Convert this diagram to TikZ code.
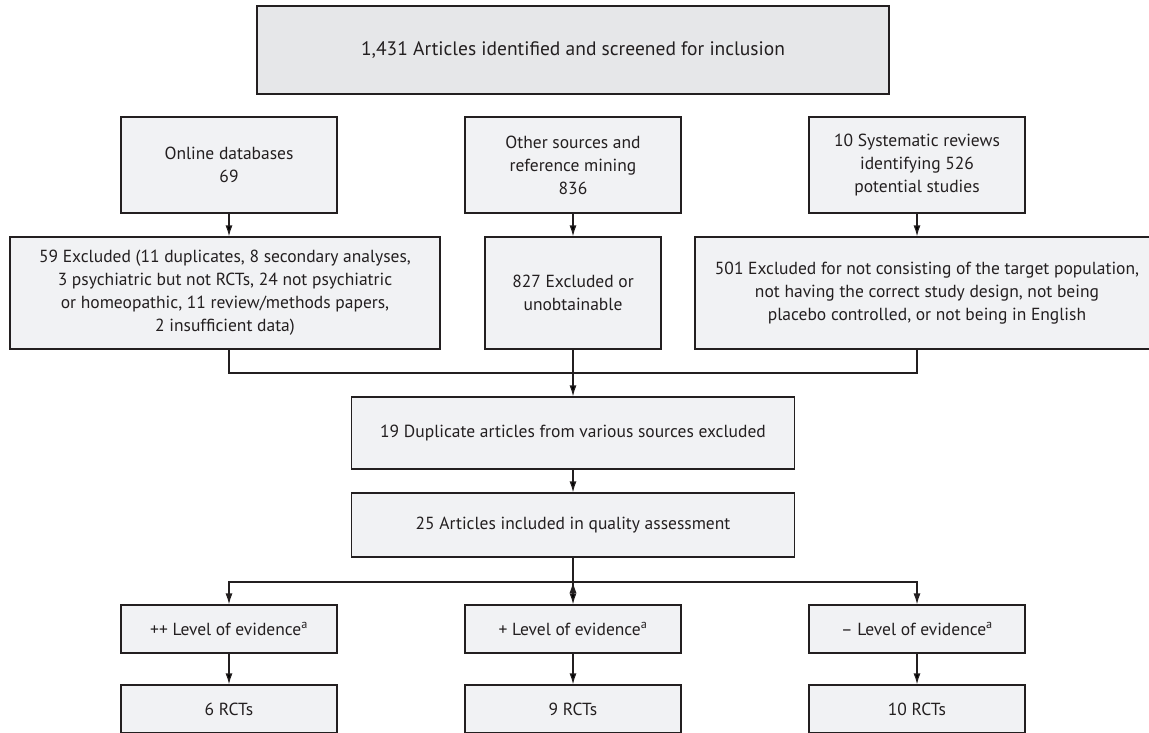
\documentclass[tikz,border=0pt]{standalone}
\usepackage{fontspec}
\setmainfont{PT Sans}
\usetikzlibrary{positioning,arrows.meta}
\definecolor{boxfill}{HTML}{F1F2F4}
\definecolor{topfill}{HTML}{E6E7E9}
\definecolor{ink}{HTML}{231F20}
\tikzset{
  box/.style={draw=ink,fill=boxfill,line width=1.2pt,text=ink,align=center,inner sep=0pt,
    font=\fontsize{17.5}{23}\selectfont},
  topbox/.style={box,fill=topfill,minimum width=632pt,minimum height=88pt,
    font=\fontsize{19.5}{24}\selectfont},
  srcbox/.style={box,minimum width=216pt,minimum height=96pt},
  exbox/.style={box,minimum height=112pt},
  midbox/.style={box,minimum width=443pt},
  lvlbox/.style={box,minimum width=216pt,minimum height=48pt},
  conn/.style={draw=ink,line width=1.2pt}
}
\begin{document}
\begin{tikzpicture}[on grid,>={Latex[length=11pt,width=7pt]}]
\useasboundingbox[fill=white] (0,0) rectangle (1149pt,-733pt);
\node[topbox](id) at (573pt,-50pt) {1,431 Articles identified and screened for inclusion};
% sources
\node[srcbox](other) [below=115pt of id] {Other sources and\\reference mining\\836};
\node[srcbox](online) [left=344pt of other] {Online databases\\69};
\node[srcbox](sys) [right=344pt of other] {10 Systematic reviews\\identifying 526\\potential studies};
% exclusions
\node[exbox,minimum width=176pt](excl2) [below=128pt of other] {827 Excluded or\\unobtainable};
\node[exbox,minimum width=430pt](excl1) [left=348pt of excl2] {59 Excluded (11 duplicates, 8 secondary analyses,\\3 psychiatric but not RCTs, 24 not psychiatric\\or homeopathic, 11 review/methods papers,\\2 insufficient data)};
\node[exbox,minimum width=464pt](excl3) [right=354pt of excl2] {501 Excluded for not consisting of the target population,\\not having the correct study design, not being\\placebo controlled, or not being in English};
\coordinate[below=80pt of excl2](join);
% merged
\node[midbox,minimum height=72pt](dup) [below=140pt of excl2] {19 Duplicate articles from various sources excluded};
\node[midbox,minimum height=64pt](qual) [below=92pt of dup] {25 Articles included in quality assessment};
\coordinate[below=57pt of qual](split);
% levels
\node[lvlbox](plus) [below=104pt of qual] {+ Level of evidence\textsuperscript{a}};
\node[lvlbox](pp) [left=344pt of plus] {++ Level of evidence\textsuperscript{a}};
\node[lvlbox](minus) [right=344pt of plus] {– Level of evidence\textsuperscript{a}};
\node[lvlbox](rct9) [below=80pt of plus] {9 RCTs};
\node[lvlbox](rct6) [below=80pt of pp] {6 RCTs};
\node[lvlbox](rct10) [below=80pt of minus] {10 RCTs};
\path[conn,->]
  (online) edge (online |- excl1.north)
  (other) edge (excl2)
  (sys) edge (sys |- excl3.north)
  (excl2) edge (dup)
  (dup) edge (qual)
  (split) edge (plus)
  (pp) edge (rct6)
  (plus) edge (rct9)
  (minus) edge (rct10);
\draw[conn] (excl1.south -| online) |- (join) -| (excl3.south -| sys);
\draw[conn] (qual) -- (split);
\draw[conn,->] (split) -| (pp);
\draw[conn,->] (split) -| (minus);
\end{tikzpicture}
\end{document}
